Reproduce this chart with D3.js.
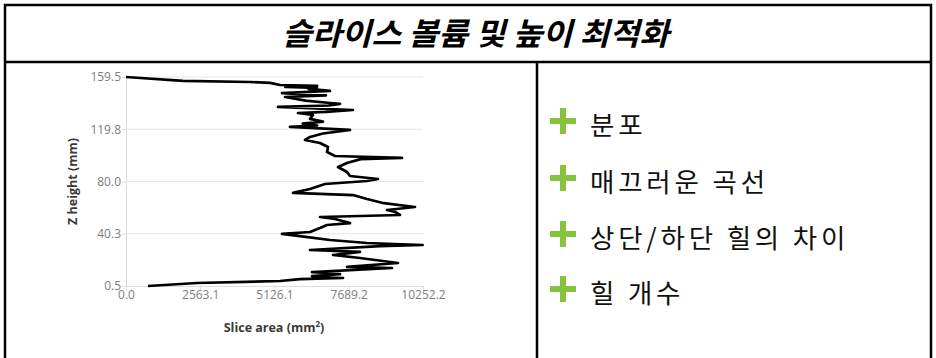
<!DOCTYPE html>
<html>
<head>
<meta charset="utf-8">
<script src="https://cdn.jsdelivr.net/npm/d3@7"></script>
<style>
  html, body { margin: 0; padding: 0; background: #fff; }
  svg { display: block; }
</style>
</head>
<body>
<svg id="slide" width="936" height="358"></svg>
<script>
// Slide title and bullet points
const titleText = "슬라이스 볼륨 및 높이 최적화";
const bullets = ["분포", "매끄러운 곡선", "상단/하단 힐의 차이", "힐 개수"];

// Slice profile: Z height (mm) and slice area (mm²), bottom to top
const zHeight = [0.5, 2.8, 4.3, 5.8, 6.6, 7.2, 8.1, 9.5, 10.4, 11.1, 14.2, 15.0, 18.0, 21.8, 24.1, 26.4, 27.9,
  30.9, 31.7, 33.2, 35.5, 38.5, 40.1, 41.6, 44.6, 46.9, 48.4, 51.5, 53.0, 54.5, 56.8, 58.3,
  60.6, 63.5, 66.7, 69.7, 71.3, 74.3, 78.1, 80.4, 81.9, 84.2, 87.2, 91.0, 94.1, 97.0, 97.9, 99.4,
  102.4, 106.3, 109.3, 111.6, 113.9, 116.5, 119.2, 121.5, 122.6, 124.0, 125.5, 127.6, 130.6, 132.1, 133.0, 134.4,
  136.7, 137.8, 139.0, 139.7, 141.5, 144.3, 145.5, 147.3, 148.9, 150.5, 151.2, 151.9, 152.7, 153.4, 155.0, 155.7, 156.5, 159.5];
const sliceArea = [759, 2451, 5316, 6006, 7491, 6500, 6421, 7390, 7042, 6421, 9182, 7629, 9389, 8077, 7146, 8077, 6352,
  8768, 10240, 8319, 7042, 6006, 5385, 6352, 6697, 6939, 7732, 7215, 6697, 9458, 9286, 9010,
  9976, 8900, 8319, 7836, 5765, 6352, 6870, 8319, 8699, 7732, 7629, 7318, 7629, 8100, 9527, 7215,
  6939, 6973, 6697, 6179, 6352, 6800, 7732, 5661, 6600, 6100, 6800, 6352, 6455, 5937, 6900, 7836,
  5247, 7000, 7387, 7042, 6200, 5489, 6900, 5385, 7042, 6300, 6593, 5500, 6600, 5316, 4971, 4280, 1968, 0];

// Axis ticks
const xTicks = [0.0, 2563.1, 5126.1, 7689.2, 10252.2];
const yTicks = [0.5, 40.3, 80.0, 119.8, 159.5];

const svg = d3.select("#slide");
const cjk = "'Noto Sans CJK KR', 'Noto Sans', sans-serif";
const ui = "'Open Sans', 'Noto Sans', sans-serif";

// Frame: outer box, title row, and two content cells
const frame = svg.append("g").attr("fill", "none").attr("stroke", "#000").attr("stroke-width", 2.5);
frame.append("rect").attr("x", 5).attr("y", 5).attr("width", 926).attr("height", 360);
frame.append("line").attr("x1", 5).attr("x2", 931).attr("y1", 62).attr("y2", 62);
frame.append("line").attr("x1", 537).attr("x2", 537).attr("y1", 62).attr("y2", 358);

svg.append("text")
  .attr("x", 475.5).attr("y", 31)
  .attr("text-anchor", "middle").attr("dominant-baseline", "central")
  .attr("font-family", cjk).attr("font-size", 31).attr("font-weight", 700)
  .attr("font-style", "italic").attr("fill", "#000")
  .attr("textLength", 387).attr("lengthAdjust", "spacingAndGlyphs")
  .text(titleText);

// Chart
const x = d3.scaleLinear().domain([0, 10252.2]).range([126, 423]);
const y = d3.scaleLinear().domain([0.5, 159.5]).range([286, 77]);

const chart = svg.append("g");

// Horizontal gridlines
chart.append("g").selectAll("line").data(yTicks.slice(1)).join("line")
  .attr("x1", x(0)).attr("x2", x(10252.2))
  .attr("y1", d => y(d)).attr("y2", d => y(d))
  .attr("stroke", "#e6e6e6").attr("stroke-width", 1);

const yAxis = chart.append("g").attr("transform", `translate(${x(0)},0)`)
  .call(d3.axisLeft(y).tickValues(yTicks).tickSize(4).tickFormat(d3.format(".1f")));
const xAxis = chart.append("g").attr("transform", `translate(0,${y(0.5)})`)
  .call(d3.axisBottom(x).tickValues(xTicks).tickSize(4).tickFormat(d3.format(".1f")));

[yAxis, xAxis].forEach(g => {
  g.select(".domain").attr("stroke", "#dcdcdc");
  g.selectAll(".tick line").attr("stroke", "#dcdcdc");
  g.selectAll("text").attr("fill", "#7d7d7d").attr("font-family", ui).attr("font-size", 12);
});
xAxis.selectAll("text").attr("dy", "0.95em").attr("y", 2);
yAxis.selectAll("text").attr("x", -5);

chart.append("text")
  .attr("transform", `translate(72,${y(80)}) rotate(-90)`)
  .attr("text-anchor", "middle").attr("dominant-baseline", "central")
  .attr("font-family", ui).attr("font-size", 12.5).attr("font-weight", 700).attr("fill", "#3a3a3a")
  .text("Z height (mm)");

const xl = chart.append("text")
  .attr("x", 274).attr("y", 332)
  .attr("text-anchor", "middle")
  .attr("font-family", ui).attr("font-size", 12.5).attr("font-weight", 700).attr("fill", "#3a3a3a");
xl.append("tspan").text("Slice area (mm");
xl.append("tspan").attr("dy", -5).attr("font-size", 8).text("2");
xl.append("tspan").attr("dy", 5).text(")");

const profile = zHeight.map((z, i) => ({ z, a: sliceArea[i] }));
chart.append("path")
  .datum(profile)
  .attr("fill", "none").attr("stroke", "#000").attr("stroke-width", 2.7)
  .attr("stroke-linejoin", "round")
  .attr("d", d3.line().x(d => x(d.a)).y(d => y(d.z)));

// Bullet list with green plus markers
const rowY = [123, 180, 236, 291];
const items = svg.append("g").selectAll("g").data(bullets).join("g")
  .attr("transform", (d, i) => `translate(0,${rowY[i]})`);
items.append("path")
  .attr("d", "M550,-2H576M563,-15V11")
  .attr("stroke", "#86c440").attr("stroke-width", 6).attr("fill", "none");
items.append("text")
  .attr("x", 590).attr("y", 0).attr("dominant-baseline", "central")
  .attr("font-family", cjk).attr("font-size", 26.5).attr("letter-spacing", 3.8)
  .attr("fill", "#111")
  .text(d => d);
</script>
</body>
</html>
